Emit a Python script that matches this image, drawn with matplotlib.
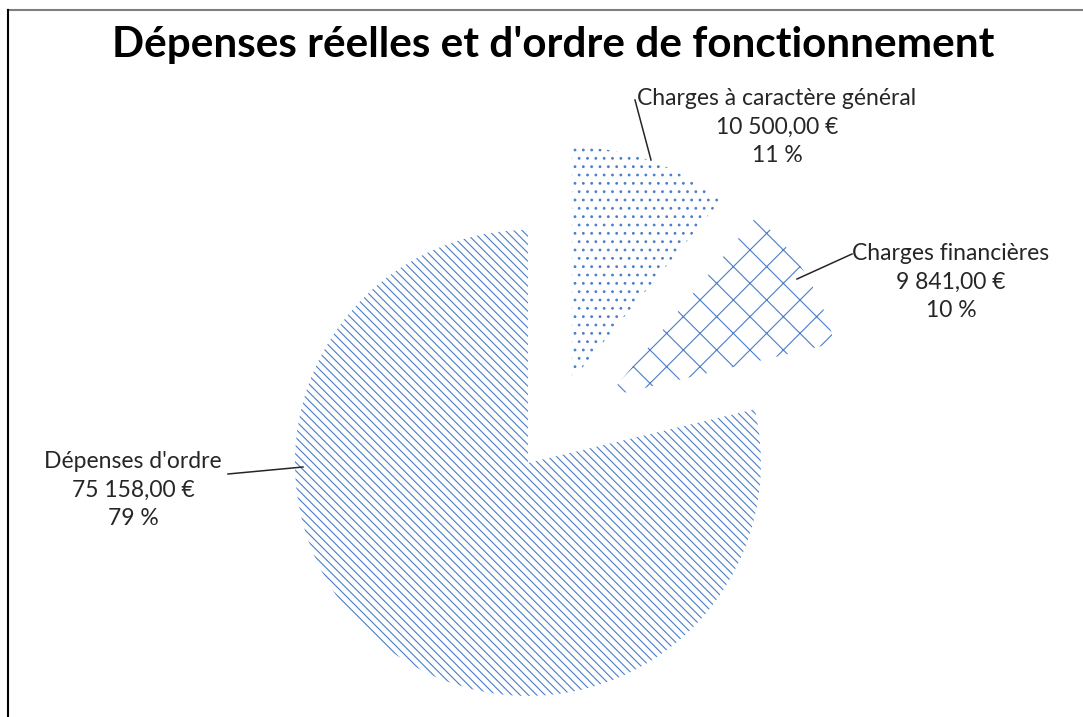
import matplotlib
matplotlib.use("Agg")
import matplotlib.pyplot as plt
from matplotlib.lines import Line2D

# ---- data ----
categories = ["Charges à caractère général", "Charges financières", "Dépenses d'ordre"]
values = [10500.00, 9841.00, 75158.00]
title = "Dépenses réelles et d'ordre de fonctionnement"

# ---- styling ----
W, H = 1083, 717
plt.rcParams['hatch.linewidth'] = 0.8
blue = '#4A7EC8'
hatches = ['..', '/\\', '\\\\\\\\']
explode = [53, 63, 42]   # pixel offsets of the exploded slices

def fmt_eur(v):
    s = f"{v:,.2f}".replace(",", " ").replace(".", ",")
    return f"{s}\u00a0€"

total = sum(values)
labels = [f"{c}\n{fmt_eur(v)}\n{round(v / total * 100)} %" for c, v in zip(categories, values)]

fig = plt.figure(figsize=(W / 100, H / 100), dpi=100)
ax = fig.add_axes([0, 0, 1, 1])

def Y(y):
    return H - y

wedges, _ = ax.pie(values, explode=explode, startangle=90, counterclock=False,
                   center=(554, Y(430)), radius=233, frame=True,
                   wedgeprops=dict(facecolor='white', edgecolor=blue, linewidth=0))
for w, h in zip(wedges, hatches):
    w.set_hatch(h)
ax.set_xlim(0, W)
ax.set_ylim(0, H)
ax.set_aspect('auto')
ax.axis('off')

font = 'Lato'
fs = 16.5
ls = 1.45
label_pos = [(777, 127), (951, 282), (133, 490)]
for (x, y), lab in zip(label_pos, labels):
    ax.text(x, Y(y), lab, ha='center', va='center', fontsize=fs, family=font,
            color='#262626', linespacing=ls)

leaders = [((635, 100), (651, 160)),
           ((852, 254), (797, 279)),
           ((228, 474), (303, 467))]
for (x0, y0), (x1, y1) in leaders:
    ax.add_line(Line2D([x0, x1], [Y(y0), Y(y1)], color='#262626', lw=1.1))

ax.text(553, Y(45), title, ha='center', va='center', fontsize=30.4,
        fontweight='bold', family=font, color='black')

# frame
ax.add_line(Line2D([8, W], [Y(10), Y(10)], color='#7f7f7f', lw=1.5))
ax.add_line(Line2D([8, 8], [Y(10), 0], color='black', lw=1.5))

fig.savefig("out.png", dpi=100)
